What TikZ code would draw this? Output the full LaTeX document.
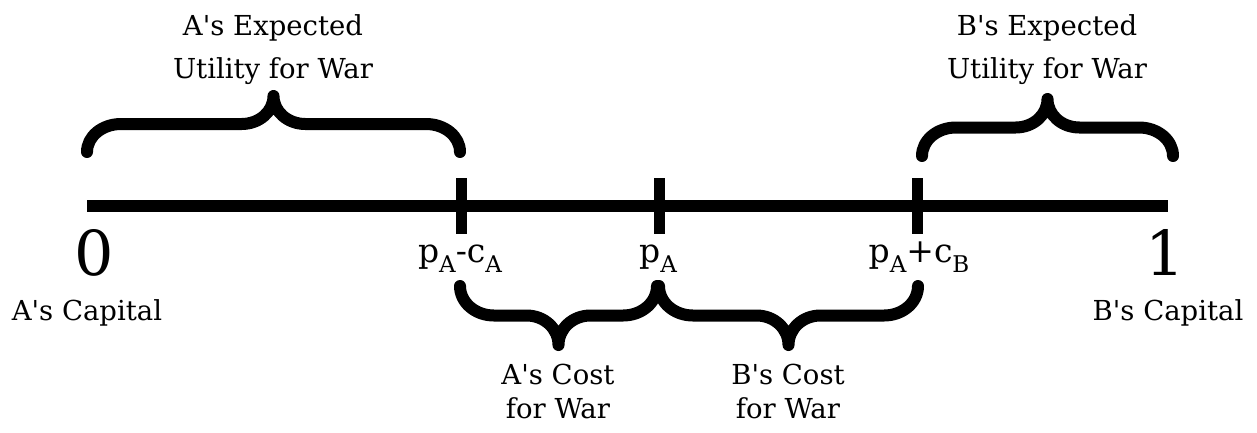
\documentclass[tikz,border=0pt]{standalone}
\usepackage{fontspec}
\setmainfont{DejaVu Serif}[Ligatures=TeXOff]
\usetikzlibrary{calc}

% lowered index in the tick labels
\newcommand\lowidx[1]{\raisebox{-10pt}{\fontsize{23}{23}\selectfont #1}}

% curly brace between x = #1 and x = #2, ends at y = #3, tip at y = #3 - #4
\newcommand\curlybrace[4]{%
  \pgfmathsetmacro\bxm{(#1+#2)/2}%
  \pgfmathsetmacro\byf{#3-0.5*(#4)}%
  \pgfmathsetmacro\byt{#3-(#4)}%
  \pgfmathsetmacro\bya{#3-0.276*(#4)}%
  \pgfmathsetmacro\byb{#3-0.724*(#4)}%
  \draw[bracket] (#1,#3) .. controls (#1,\bya) and ({#1+15},\byf) .. ({#1+34},\byf)
    -- ({\bxm-32},\byf) .. controls ({\bxm-14},\byf) and (\bxm,\byb) .. (\bxm,\byt)
    .. controls (\bxm,\byb) and ({\bxm+14},\byf) .. ({\bxm+32},\byf)
    -- ({#2-34},\byf) .. controls ({#2-15},\byf) and (#2,\bya) .. (#2,#3);%
}

\begin{document}
\begin{tikzpicture}[x=1pt,y=-1pt,
  axis/.style={line width=12pt},
  tickmark/.style={line width=11pt},
  bracket/.style={line width=12pt, line cap=round, line join=round},
  caption/.style={inner sep=0pt, align=center, font=\fontsize{27.5}{43}\selectfont},
  lowcaption/.style={inner sep=0pt, align=center, font=\fontsize{27.5}{34}\selectfont},
  ticklabel/.style={inner sep=0pt, anchor=base, font=\fontsize{33}{33}\selectfont},
  endnum/.style={inner sep=0pt, anchor=base, font=\fontsize{62}{62}\selectfont}]
\useasboundingbox (0,0) rectangle (1257,432);

% the axis
\coordinate (L) at (87,206);
\coordinate (R) at (1168,206);
\draw[axis] (L) -- (R);

% tick marks
\coordinate (t1) at (461,206);
\coordinate (t2) at (659,206);
\coordinate (t3) at (917,206);
\foreach \t in {t1,t2,t3}
  \draw[tickmark] ($(\t)+(0,-28)$) -- ($(\t)+(0,28)$);

% end values and tick labels
\node[endnum] (zero) at (94,275) {0};
\node[endnum] (one) at (1165,275) {1};
\node[ticklabel] (l1) at (460,262) {p\lowidx{A}-c\lowidx{A}};
\node[ticklabel] (l2) at (658,262) {p\lowidx{A}};
\node[ticklabel] (l3) at (919,262) {p\lowidx{A}+c\lowidx{B}};

\node[caption, anchor=base] (capA) at (87,320) {A's Capital};
\node[caption, anchor=base] (capB) at (1168,320) {B's Capital};

% braces above the axis
\curlybrace{87}{460}{152}{56}
\curlybrace{922}{1173}{156}{57}
\node[caption, anchor=north] (euA) at (273,14) {A's Expected\\Utility for War};
\node[caption, anchor=north] (euB) at (1047,14) {B's Expected\\Utility for War};

% braces below the axis
\curlybrace{460}{657}{286}{-59}
\curlybrace{659}{918}{286}{-59}
\node[lowcaption, anchor=north] (costA) at (558,364) {A's Cost\\for War};
\node[lowcaption, anchor=north] (costB) at (788,364) {B's Cost\\for War};
\end{tikzpicture}
\end{document}
